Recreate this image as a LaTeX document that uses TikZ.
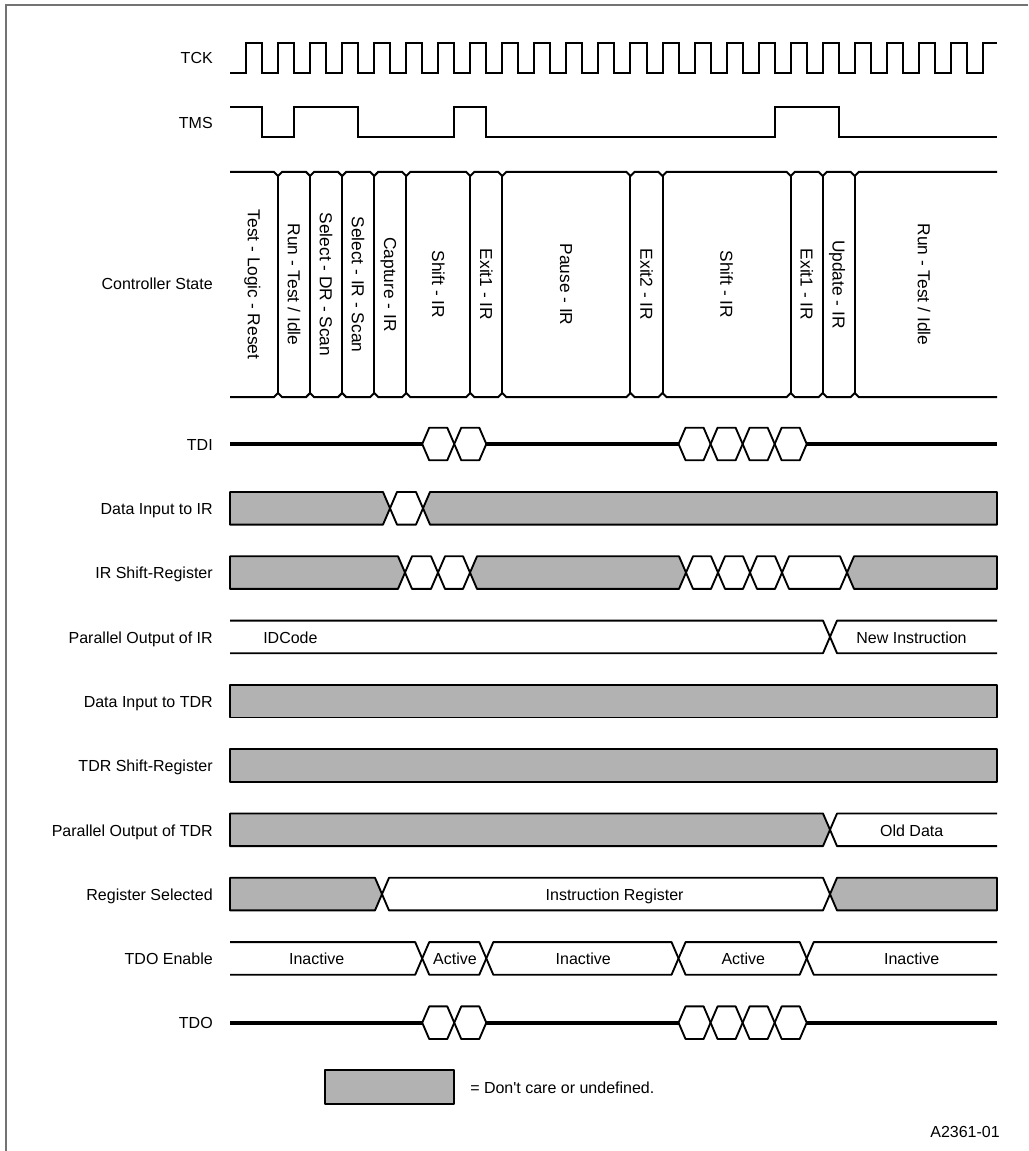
\documentclass[tikz,border=0pt]{standalone}
\usepackage{fontspec}
\setmainfont{Liberation Sans}
\usetikzlibrary{calc}
\definecolor{dcgray}{gray}{0.7}
\definecolor{framegray}{gray}{0.45}

% time axis (pixel units): start, end, clock period, first rise, first fall
\def\xs{230}
\def\xe{997}
\def\per{32.04}
\def\rz{246}
\def\fz{262.02}
% bus half height and slope width
\def\hh{16.3}
\def\dx{7}

% bus pieces: #1 row centre, #2/#3 crossing points, #4 fill
\newcommand{\hexseg}[4]{\filldraw[bus,fill=#4] ({#2},{#1}) -- ({#2+\dx},{#1-\hh})
  -- ({#3-\dx},{#1-\hh}) -- ({#3},{#1}) -- ({#3-\dx},{#1+\hh}) -- ({#2+\dx},{#1+\hh}) -- cycle;}
\newcommand{\segLc}[3]{\filldraw[bus,fill=#3] (\xs,{#1-\hh}) -- ({#2-\dx},{#1-\hh})
  -- ({#2},{#1}) -- ({#2-\dx},{#1+\hh}) -- (\xs,{#1+\hh}) -- cycle;}
\newcommand{\segLo}[2]{\draw[bus] (\xs,{#1-\hh}) -- ({#2-\dx},{#1-\hh})
  -- ({#2},{#1}) -- ({#2-\dx},{#1+\hh}) -- (\xs,{#1+\hh});}
\newcommand{\segRc}[3]{\filldraw[bus,fill=#3] (\xe,{#1-\hh}) -- ({#2+\dx},{#1-\hh})
  -- ({#2},{#1}) -- ({#2+\dx},{#1+\hh}) -- (\xe,{#1+\hh}) -- cycle;}
\newcommand{\segRo}[2]{\draw[bus] (\xe,{#1-\hh}) -- ({#2+\dx},{#1-\hh})
  -- ({#2},{#1}) -- ({#2+\dx},{#1+\hh}) -- (\xe,{#1+\hh});}
\newcommand{\segFull}[2]{\filldraw[bus,fill=#2] (\xs,{#1-\hh}) rectangle (\xe,{#1+\hh});}
\newcommand{\fe}[1]{\fz+\per*#1}

\begin{document}
\begin{tikzpicture}[x=0.75pt,y=-0.75pt,
  sig/.style={line width=1.5pt,line join=miter},
  bus/.style={line width=1.4pt,line join=round},
  fat/.style={line width=3pt},
  txt/.style={font=\fontsize{12}{14}\selectfont,text height=8.6pt,text depth=0pt,inner sep=0pt},
  lbl/.style={txt,anchor=east},
  stlbl/.style={txt,font=\fontsize{13}{15}\selectfont,text height=9.3pt,rotate=-90}]
\useasboundingbox (0,0) rectangle (1028,1151);

% frame
\draw[framegray,line width=1.4pt] (6,1151) -- (6,5) -- (1028,5);

% signal names
\node[lbl] (ltck) at (213,58) {TCK};
\node[lbl] (ltms) at (213,123) {TMS};
\node[lbl] (lstate) at (213,284) {Controller State};
\node[lbl] (ltdi) at (213,445) {TDI};
\node[lbl] (ldiir) at (213,509) {Data Input to IR};
\node[lbl] (lirsr) at (213,573) {IR Shift-Register};
\node[lbl] (lpoir) at (213,637.5) {Parallel Output of IR};
\node[lbl] (lditdr) at (213,702) {Data Input to TDR};
\node[lbl] (ltdrsr) at (213,766) {TDR Shift-Register};
\node[lbl] (lpotdr) at (213,830.5) {Parallel Output of TDR};
\node[lbl] (lrs) at (213,895) {Register Selected};
\node[lbl] (ltdoe) at (213,959) {TDO Enable};
\node[lbl] (ltdo) at (213,1023) {TDO};

% TCK
\draw[sig] (\xs,73) \foreach \k in {0,...,22} {
    -- ({\rz+\per*\k},73) -- ({\rz+\per*\k},43)
    -- ({\fz+\per*\k},43) -- ({\fz+\per*\k},73) }
  -- (983,73) -- (983,43) -- (\xe,43);

% TMS
\draw[sig] (\xs,107) -- ({\fe{0}},107) -- ({\fe{0}},137) -- ({\fe{1}},137)
  -- ({\fe{1}},107) -- ({\fe{3}},107) -- ({\fe{3}},137) -- ({\fe{6}},137)
  -- ({\fe{6}},107) -- ({\fe{7}},107) -- ({\fe{7}},137) -- ({\fe{16}},137)
  -- ({\fe{16}},107) -- ({\fe{18}},107) -- ({\fe{18}},137) -- (\xe,137);

% controller state
\def\stb{1,2,3,4,5,7,8,12,13,17,18,19}
\draw[sig] (\xs,172) \foreach \k in \stb {
    -- ({\rz+\per*\k-4},172) -- ({\rz+\per*\k},176) -- ({\rz+\per*\k+4},172) }
  -- (\xe,172);
\draw[sig] (\xs,397) \foreach \k in \stb {
    -- ({\rz+\per*\k-4},397) -- ({\rz+\per*\k},393) -- ({\rz+\per*\k+4},397) }
  -- (\xe,397);
\foreach \k in \stb {
  \draw[sig] ({\rz+\per*\k},176) -- ({\rz+\per*\k},393);
}
\foreach \x/\t [count=\i] in {254/{Test - Logic - Reset}, 294.1/{Run - Test / Idle},
    326.1/{Select - DR - Scan}, 358.1/{Select - IR - Scan}, 390.2/{Capture - IR},
    438.3/{Shift - IR}, 486.3/{Exit1 - IR}, 566.4/{Pause - IR}, 646.5/{Exit2 - IR},
    726.6/{Shift - IR}, 806.7/{Exit1 - IR}, 838.7/{Update - IR},
    924/{Run - Test / Idle}} {
  \node[stlbl] (st\i) at (\x,284.5) {\t};
}

% TDI
\draw[fat] (\xs,444) -- ({\fe{5}},444);
\draw[fat] ({\fe{7}},444) -- ({\fe{13}},444);
\draw[fat] ({\fe{17}},444) -- (\xe,444);
\foreach \k in {5,6,13,14,15,16} {
  \hexseg{444}{\fe{\k}}{\fe{(\k+1)}}{white}
}

% Data Input to IR
\segLc{508.3}{390}{dcgray}
\hexseg{508.3}{390}{423}{white}
\segRc{508.3}{423}{dcgray}

% IR Shift-Register
\segLc{572.6}{405}{dcgray}
\hexseg{572.6}{405}{438}{white}
\hexseg{572.6}{438}{470}{white}
\hexseg{572.6}{470}{686}{dcgray}
\hexseg{572.6}{686}{718}{white}
\hexseg{572.6}{718}{750}{white}
\hexseg{572.6}{750}{782}{white}
\hexseg{572.6}{782}{847}{white}
\segRc{572.6}{847}{dcgray}

% Parallel Output of IR
\segLo{636.9}{830}
\segRo{636.9}{830}
\node[txt,anchor=west] (idcode) at (263,637.5) {IDCode};
\node[txt] (newins) at (911.5,637.5) {New Instruction};

% Data Input to TDR, TDR Shift-Register
\segFull{701.2}{dcgray}
\segFull{765.5}{dcgray}

% Parallel Output of TDR
\segLc{829.8}{830}{dcgray}
\segRo{829.8}{830}
\node[txt] (olddata) at (911.7,830.5) {Old Data};

% Register Selected
\segLc{894.1}{382}{dcgray}
\hexseg{894.1}{382}{830}{white}
\segRc{894.1}{830}{dcgray}
\node[txt] (insreg) at (614.6,894.5) {Instruction Register};

% TDO Enable
\segLo{958.4}{\fe{5}}
\hexseg{958.4}{\fe{5}}{\fe{7}}{white}
\hexseg{958.4}{\fe{7}}{\fe{13}}{white}
\hexseg{958.4}{\fe{13}}{\fe{17}}{white}
\segRo{958.4}{\fe{17}}
\node[txt] (inact1) at (316.7,958.5) {Inactive};
\node[txt] (act1) at (455,958.5) {Active};
\node[txt] (inact2) at (583.3,958.5) {Inactive};
\node[txt] (act2) at (743.3,958.5) {Active};
\node[txt] (inact3) at (911.7,958.5) {Inactive};

% TDO
\draw[fat] (\xs,1022.7) -- ({\fe{5}},1022.7);
\draw[fat] ({\fe{7}},1022.7) -- ({\fe{13}},1022.7);
\draw[fat] ({\fe{17}},1022.7) -- (\xe,1022.7);
\foreach \k in {5,6,13,14,15,16} {
  \hexseg{1022.7}{\fe{\k}}{\fe{(\k+1)}}{white}
}

% legend
\filldraw[bus,fill=dcgray] (325,1070) rectangle (454,1104);
\node[txt,anchor=west] (legend) at (470,1087.5) {= Don\textquotesingle t care or undefined.};
\node[txt,anchor=east] (figid) at (1000,1132) {A2361-01};
\end{tikzpicture}
\end{document}
